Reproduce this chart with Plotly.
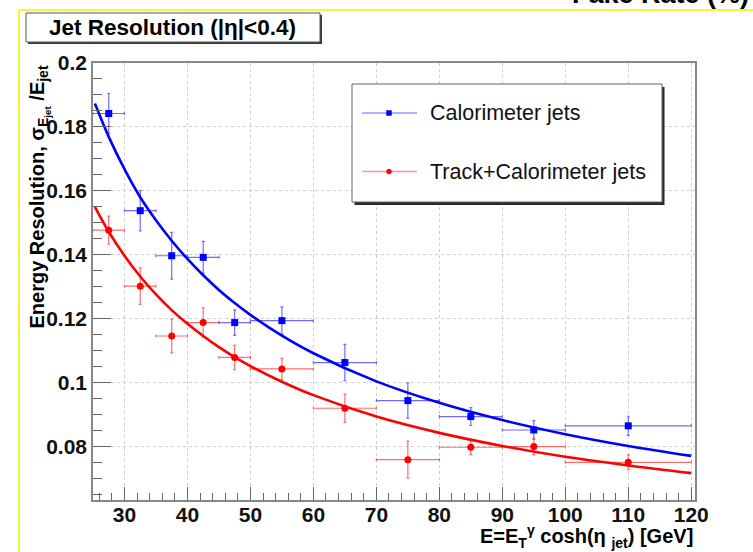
import plotly.graph_objects as go

# Measured jet energy resolution per energy bin
bin_center = [27.5, 32.5, 37.5, 42.5, 47.5, 55, 65, 75, 85, 95, 110]
bin_halfwidth = [2.5, 2.5, 2.5, 2.5, 2.5, 5, 5, 5, 5, 5, 10]

calo_res = [0.1842, 0.1538, 0.1397, 0.1392, 0.1188, 0.1194, 0.1063, 0.0944, 0.0894, 0.0852, 0.0865]
calo_err = [0.0062, 0.0063, 0.0073, 0.0050, 0.0040, 0.0043, 0.0057, 0.0055, 0.0028, 0.0029, 0.0030]

trk_res = [0.1477, 0.1302, 0.1146, 0.1188, 0.1079, 0.1043, 0.0920, 0.0759, 0.0798, 0.0800, 0.0751]
trk_err = [0.0044, 0.0057, 0.0053, 0.0046, 0.0038, 0.0033, 0.0044, 0.0058, 0.0023, 0.0026, 0.0023]

# Fitted resolution curves, sampled along E
fit_e = [25.3, 27.5, 30, 32.5, 35, 37.5, 40, 42.5, 45, 47.5, 50, 55, 60, 70, 80, 90, 100, 110, 120]
calo_fit = [0.1873, 0.1769, 0.1668, 0.1580, 0.1508, 0.1444, 0.1387, 0.1336, 0.1290, 0.1249,
            0.1212, 0.1147, 0.1092, 0.1004, 0.0937, 0.0883, 0.0839, 0.0802, 0.0771]
trk_fit = [0.1550, 0.1472, 0.1397, 0.1332, 0.1276, 0.1227, 0.1184, 0.1146, 0.1111, 0.1080,
           0.1052, 0.1003, 0.0961, 0.0894, 0.0843, 0.0802, 0.0768, 0.0741, 0.0717]

x_ticks = [30, 40, 50, 60, 70, 80, 90, 100, 110, 120]
y_ticks = [0.08, 0.1, 0.12, 0.14, 0.16, 0.18, 0.2]
y_ticktext = ["0.08", "0.1", "0.12", "0.14", "0.16", "0.18", "0.2"]

BLUE = "rgb(0,0,255)"
RED = "rgb(255,0,0)"
FONT = "Liberation Sans, Arial, sans-serif"

W, H = 753, 552
ML, MR, MT, MB = 93, 58, 63, 52
PW, PH = W - ML - MR, H - MT - MB


def X(px):
    return (px - ML) / PW


def Y(py):
    return (H - MB - py) / PH


fig = go.Figure()

fig.add_trace(go.Scatter(
    x=bin_center, y=calo_res, mode="markers",
    marker=dict(symbol="square", size=7, color=BLUE),
    error_x=dict(type="data", array=bin_halfwidth, color="rgba(60,60,255,0.75)", thickness=1.2, width=1.5),
    error_y=dict(type="data", array=calo_err, color="rgba(60,60,255,0.75)", thickness=1.2, width=1.5),
    showlegend=False,
))
fig.add_trace(go.Scatter(
    x=bin_center, y=trk_res, mode="markers",
    marker=dict(symbol="circle", size=7, color=RED),
    error_x=dict(type="data", array=bin_halfwidth, color="rgba(255,60,60,0.75)", thickness=1.2, width=1.5),
    error_y=dict(type="data", array=trk_err, color="rgba(255,60,60,0.75)", thickness=1.2, width=1.5),
    showlegend=False,
))
fig.add_trace(go.Scatter(
    x=fit_e, y=calo_fit, mode="lines", line=dict(color=BLUE, width=2.6, shape="spline"),
    showlegend=False,
))
fig.add_trace(go.Scatter(
    x=fit_e, y=trk_fit, mode="lines", line=dict(color=RED, width=2.6, shape="spline"),
    showlegend=False,
))

shapes = []
annotations = []

# yellow slide border
shapes.append(dict(type="line", xref="paper", yref="paper", x0=X(19), x1=X(760), y0=Y(10), y1=Y(10),
                   line=dict(color="#f2f200", width=1.5)))
shapes.append(dict(type="line", xref="paper", yref="paper", x0=X(19), x1=X(19), y0=Y(10), y1=Y(560),
                   line=dict(color="#f2f200", width=1.5)))

# title box with shadow
shapes.append(dict(type="rect", xref="paper", yref="paper", x0=X(28), x1=X(322), y0=Y(15), y1=Y(44),
                   fillcolor="#3a3a3a", line=dict(width=0), layer="above"))
shapes.append(dict(type="rect", xref="paper", yref="paper", x0=X(26), x1=X(320), y0=Y(13), y1=Y(42),
                   fillcolor="white", line=dict(color="#555", width=1), layer="above"))
annotations.append(dict(text="<b>Jet Resolution (|η|&lt;0.4)</b>", xref="paper", yref="paper",
                        x=X(172), y=Y(28), xanchor="center", yanchor="middle", showarrow=False,
                        font=dict(family=FONT, size=22.5, color="black")))

# legend box with shadow
shapes.append(dict(type="rect", xref="paper", yref="paper", x0=X(354.5), x1=X(664.5), y0=Y(87), y1=Y(205),
                   fillcolor="#2a2a2a", line=dict(width=0), layer="above"))
shapes.append(dict(type="rect", xref="paper", yref="paper", x0=X(352), x1=X(662), y0=Y(84), y1=Y(202),
                   fillcolor="white", line=dict(color="#666", width=1), layer="above"))
legend_rows = [("Calorimeter jets", BLUE, "rgba(80,80,255,0.6)", "rect", 113),
               ("Track+Calorimeter jets", RED, "rgba(255,80,80,0.6)", "circle", 171.5)]
for label, col, lcol, sym, py in legend_rows:
    shapes.append(dict(type="line", xref="paper", yref="paper", x0=X(362), x1=X(417), y0=Y(py), y1=Y(py),
                       line=dict(color=lcol, width=1.3), layer="above"))
    shapes.append(dict(type=sym, xref="paper", yref="paper", x0=X(386.5), x1=X(391.5),
                       y0=Y(py - 2.5), y1=Y(py + 2.5), fillcolor=col, line=dict(color=col, width=0.5),
                       layer="above"))
    annotations.append(dict(text=label, xref="paper", yref="paper", x=X(428), y=Y(py),
                            xanchor="left", yanchor="middle", showarrow=False,
                            font=dict(family=FONT, size=21.5, color="#111")))

# partially visible heading of the neighbouring panel
annotations.append(dict(text="<b>Fake Rate (%)</b>", xref="paper", yref="paper", x=X(751), y=Y(-6),
                        xanchor="right", yanchor="middle", showarrow=False,
                        font=dict(family=FONT, size=27, color="black")))

# axis titles
annotations.append(dict(text="<b>E=E<sub>T</sub><sup>γ</sup> cosh(η <sub>jet</sub>) [GeV]</b>",
                        xref="paper", yref="paper", x=X(695), y=Y(536), xanchor="right", yanchor="middle",
                        showarrow=False, font=dict(family=FONT, size=20, color="black")))
annotations.append(dict(text="<b>Energy Resolution, σ<sub>E<sub>jet</sub></sub> /E<sub>jet</sub></b>",
                        xref="paper", yref="paper", x=X(39), y=Y(64), xanchor="center", yanchor="top",
                        textangle=-90, showarrow=False, font=dict(family=FONT, size=20, color="black")))

fig.update_layout(
    width=W, height=H,
    margin=dict(l=ML, r=MR, t=MT, b=MB),
    paper_bgcolor="white", plot_bgcolor="white",
    shapes=shapes, annotations=annotations,
    font=dict(family=FONT, color="black"),
)

fig.update_xaxes(
    range=[25, 120.6], tickvals=x_ticks, ticktext=[str(v) for v in x_ticks],
    ticks="inside", ticklen=13, tickwidth=1.3, tickcolor="#666", ticklabelstandoff=-5,
    minor=dict(dtick=2, tick0=0, ticks="inside", ticklen=7, tickwidth=1.2, tickcolor="#666", showgrid=False),
    showline=True, linecolor="#888", linewidth=1.5, mirror=True,
    showgrid=True, gridcolor="#c9d3c9", griddash="dot", gridwidth=1,
    zeroline=False, tickfont=dict(family=FONT, size=21, color="#111", weight="bold"),
)
fig.update_yaxes(
    range=[0.0633, 0.2], tickvals=y_ticks, ticktext=y_ticktext,
    ticks="inside", ticklen=18, tickwidth=1.3, tickcolor="#666",
    minor=dict(dtick=0.005, tick0=0, ticks="inside", ticklen=9, tickwidth=1.2, tickcolor="#666", showgrid=False),
    showline=True, linecolor="#888", linewidth=1.5, mirror=True,
    showgrid=True, gridcolor="#c9d3c9", griddash="dot", gridwidth=1,
    zeroline=False, tickfont=dict(family=FONT, size=21, color="#111", weight="bold"),
)

fig.write_html("out.html")
